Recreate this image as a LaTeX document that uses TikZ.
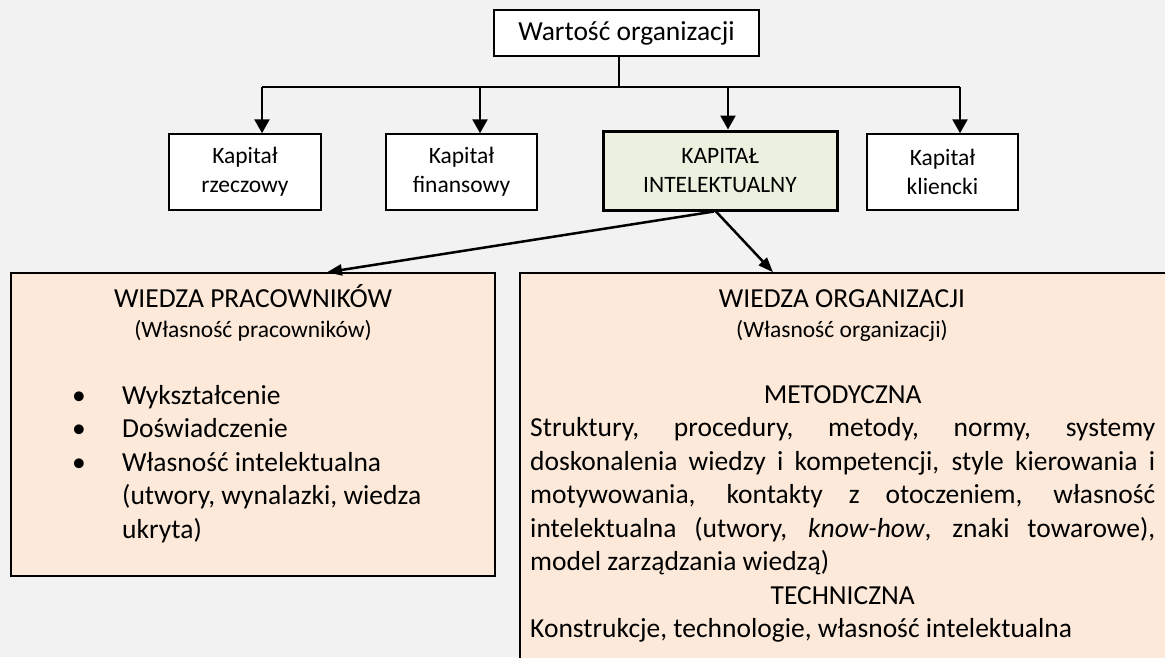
\documentclass[tikz,border=0pt]{standalone}
\usepackage{fontspec}
\setmainfont{Carlito}
\usetikzlibrary{
  positioning, arrows.meta, calc
}
\definecolor{tlo}{HTML}{F2F2F2}
\definecolor{zielony}{HTML}{EBF1DE}
\definecolor{brzoskwinia}{HTML}{FDE9D9}
\newcommand{\duzy}{\fontsize{27.5}{33.5}\selectfont}
\newcommand{\maly}{\fontsize{23.5}{29}\selectfont}

\begin{document}
\begin{tikzpicture}[x=1pt,y=-1pt,
    kapital/.style={draw, fill=white, line width=1.5pt, align=center, inner sep=0pt,
      minimum width=152pt, minimum height=76pt, font=\maly},
    wiedza/.style={draw, fill=brzoskwinia, line width=1.5pt, inner sep=0pt},
    szyna/.style={line width=2pt},
    strzalka/.style={line width=2.5pt, -{Triangle[length=14pt,width=15pt]}},
    strzalka2/.style={line width=2.5pt, -{Triangle[length=15pt,width=11pt]}}]
      \fill[tlo] (0,0) rectangle (1165,657);
      \useasboundingbox (0,0) rectangle (1165,657);
      \clip (0,0) rectangle (1165,657);
      % top
      \node[kapital, minimum width=265pt, minimum height=46pt, font=\duzy] (wartosc) at (626.5,33) {Wartość organizacji};
      \node[kapital] (rzecz) at (245,172) {Kapitał\\rzeczowy};
      \node[kapital, minimum width=151pt] (finans) at (461.5,172) {Kapitał\\finansowy};
      \node[kapital, fill=zielony, line width=3pt, minimum width=234pt, minimum height=79pt] (intel) at (720,170.5) {KAPITAŁ\\INTELEKTUALNY};
      \node[kapital, minimum width=151pt] (klient) at (942.5,172) {Kapitał\\kliencki};
      % bus
      \coordinate (pien) at (619,87);
      \coordinate (b1) at (262,87);
      \coordinate (b2) at (480,87);
      \coordinate (b3) at (728,87);
      \coordinate (b4) at (960,87);
      \draw[szyna] (wartosc.south -| pien) -- (pien);
      \draw[szyna] (b1) -- (b4);
      \draw[strzalka] (b1) -- (b1 |- rzecz.north);
      \draw[strzalka] (b2) -- (b2 |- finans.north);
      \draw[strzalka] (b3) -- (b3 |- intel.north);
      \draw[strzalka] (b4) -- (b4 |- klient.north);
      % bottom boxes
      \node[wiedza, minimum width=484pt, minimum height=303pt] (prac) at (253,424.5) {};
      \node[wiedza, minimum width=660pt, minimum height=427pt] (org) at (850,486.5) {};
      \draw[strzalka2] ([xshift=-6pt]intel.south) -- ([xshift=74pt]prac.north);
      \draw[strzalka2] ([xshift=-4pt]intel.south) -- ([xshift=-77pt]org.north);
      % left text
      \node[anchor=base, font=\duzy, inner sep=0pt] (pracnaglowek) at (253,307) {WIEDZA PRACOWNIKÓW};
      \node[anchor=base, font=\maly, inner sep=0pt] (pracwlasnosc) at (253,337) {(Własność pracowników)};
      \node[anchor=base west, font=\duzy, inner sep=0pt] (praclista) at (72,404) {%
        \begin{tabular}[t]{@{}p{50pt}@{}l@{}}
          \textbullet & Wykształcenie\\
          \textbullet & Doświadczenie\\
          \textbullet & Własność intelektualna\\
                      & (utwory, wynalazki, wiedza\\
                      & ukryta)
        \end{tabular}};
      % right text
      \node[anchor=base, font=\duzy, inner sep=0pt] (orgnaglowek) at (842,307) {WIEDZA ORGANIZACJI};
      \node[anchor=base, font=\maly, inner sep=0pt] (orgwlasnosc) at (842,337) {(Własność organizacji)};
      \node[anchor=base west, font=\duzy, inner sep=0pt, text width=625pt, align=justify] (orgtekst) at (530,403) {%
        {\centering METODYCZNA\par}
        Struktury, procedury, metody, normy, systemy\linebreak
        doskonalenia wiedzy i kompetencji, style kierowania i\linebreak
        motywowania, kontakty z otoczeniem, własność\linebreak
        intelektualna (utwory, \textit{know-how}, znaki towarowe),\linebreak
        model zarządzania wiedzą)\par
        {\centering TECHNICZNA\par}
        Konstrukcje, technologie, własność intelektualna};
    \end{tikzpicture}
\end{document}
